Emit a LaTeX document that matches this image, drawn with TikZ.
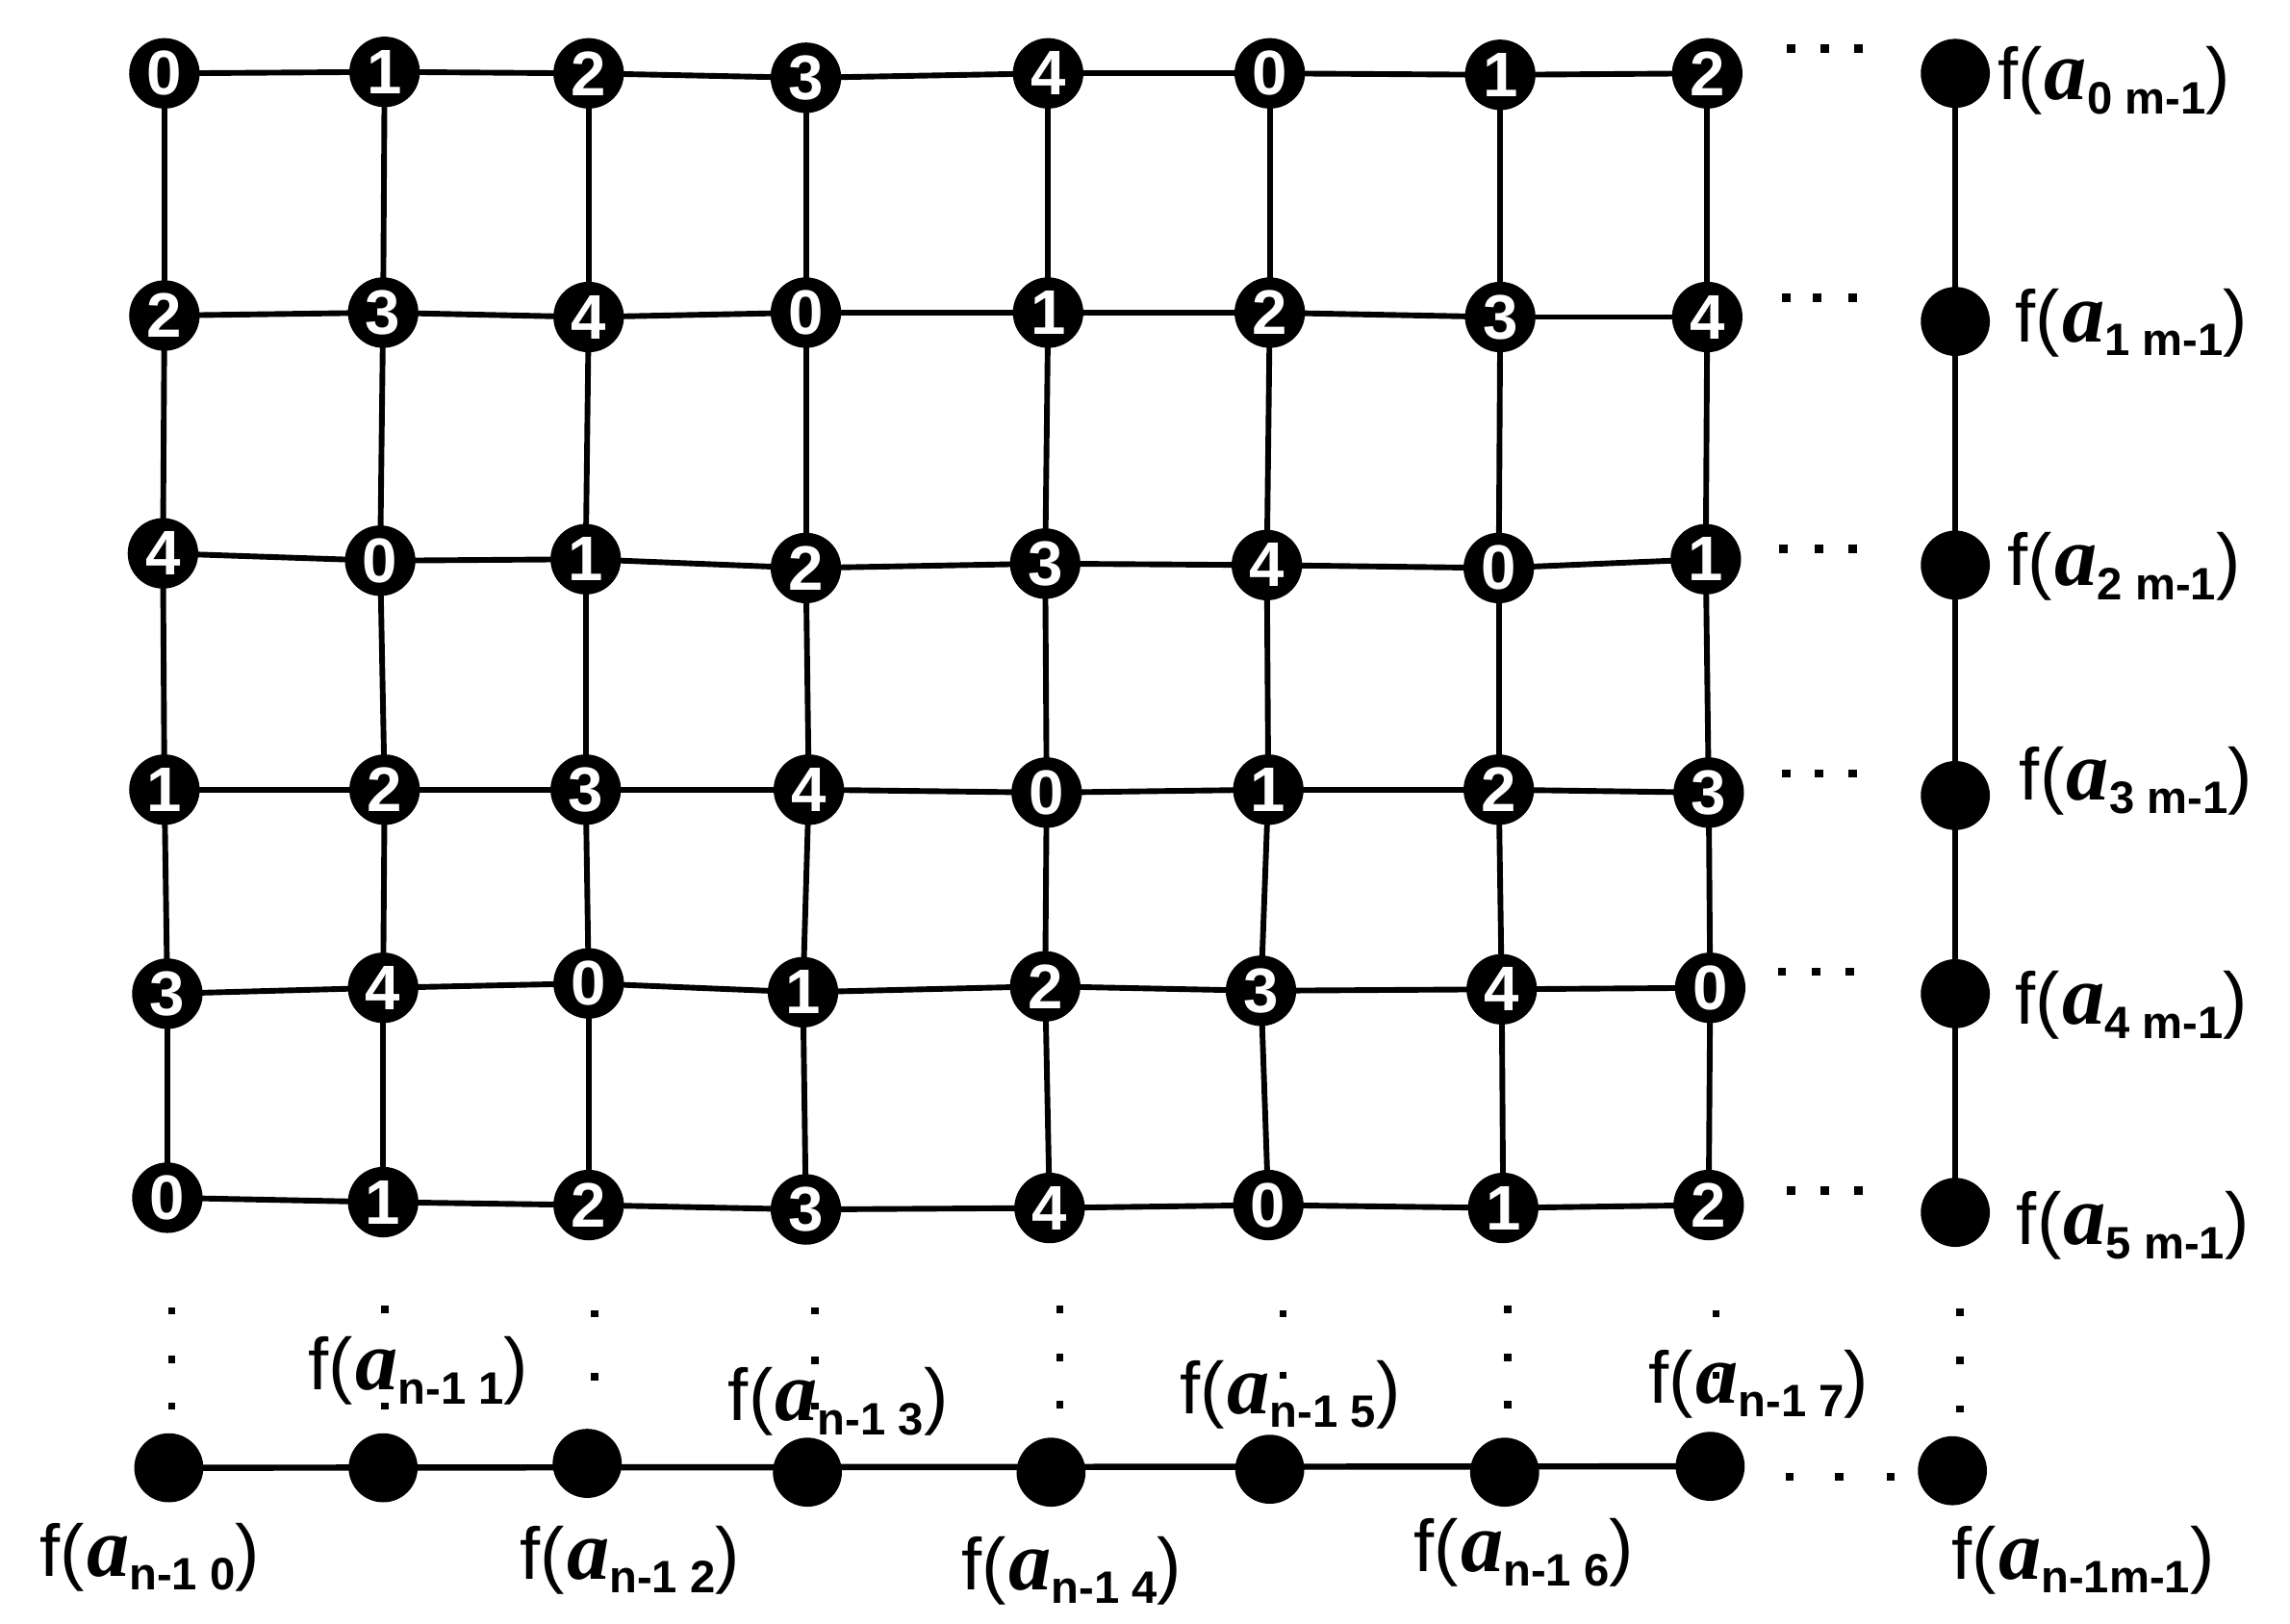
\documentclass[tikz,border=0pt]{standalone}
\usepackage{fontspec}
\setmainfont{Liberation Serif}
\setsansfont{Liberation Sans}
\usetikzlibrary{backgrounds}
\newcommand{\flab}[1]{{\sffamily\fontsize{14.2}{14.2}\selectfont f(\hspace{0.03em}{\rmfamily\bfseries\itshape\fontsize{16.5}{16.5}\selectfont a}\raisebox{-2.7pt}{\fontsize{8.8}{8.8}\selectfont\bfseries #1})}}
\tikzset{
  gn/.style={circle, fill=black, minimum size=0.48cm, inner sep=0pt, text=white,
    font=\sffamily\bfseries\fontsize{12.2}{12.2}\selectfont},
  bn/.style={circle, fill=black, minimum size=0.47cm, inner sep=0pt},
  lab/.style={inner sep=0pt, anchor=center},
  edge/.style={line width=1.1pt, black},
  sqdot/.style={fill=black}
}
\begin{document}
\begin{tikzpicture}[x=0.01cm, y=-0.01cm]
\useasboundingbox (0,0) rectangle (1560,1106.4);
% grid nodes: row-col
\foreach \c/\x/\y/\d in {0/112/50/0,1/262/49/1,2/401/50/2,3/549/53/3,4/714/50/4,5/865/50/0,6/1022/51/1,7/1163/50/2}
  \node[gn] (n-0-\c) at (\x,\y) {\d};
\foreach \c/\x/\y/\d in {0/112/215/2,1/261/213/3,2/401/216/4,3/549/213/0,4/714/213/1,5/865/213/2,6/1022/216/3,7/1163/216/4}
  \node[gn] (n-1-\c) at (\x,\y) {\d};
\foreach \c/\x/\y/\d in {0/111/377/4,1/259/382/0,2/399/381/1,3/549/387/2,4/712/384/3,5/863/385/4,6/1021/387/0,7/1162/381/1}
  \node[gn] (n-2-\c) at (\x,\y) {\d};
\foreach \c/\x/\y/\d in {0/112/538/1,1/262/538/2,2/399/538/3,3/551/538/4,4/713/540/0,5/864/538/1,6/1021/538/2,7/1164/540/3}
  \node[gn] (n-3-\c) at (\x,\y) {\d};
\foreach \c/\x/\y/\d in {0/114/677/3,1/261/673/4,2/401/670/0,3/547/676/1,4/712/672/2,5/859/675/3,6/1023/674/4,7/1165/673/0}
  \node[gn] (n-4-\c) at (\x,\y) {\d};
\foreach \c/\x/\y/\d in {0/114/816/0,1/261/819/1,2/401/821/2,3/549/824/3,4/715/823/4,5/864/821/0,6/1024/823/1,7/1164/821/2}
  \node[gn] (n-5-\c) at (\x,\y) {\d};
% right column nodes
\foreach \r/\y in {0/50,1/219,2/385,3/542,4/677,5/826}
  \node[bn] (r-\r) at (1332,\y) {};
% bottom row nodes
\foreach \c/\x/\y in {0/115/1000,1/261/1000,2/400/997,3/550/1003,4/716/1003,5/865/1001,6/1025/1003,7/1165/999,8/1330/1002}
  \node[bn] (b-\c) at (\x,\y) {};
% edges
\begin{scope}[on background layer]
  \foreach \r in {0,1,2,3,4,5}
    \foreach \c/\cn in {0/1,1/2,2/3,3/4,4/5,5/6,6/7}
      \draw[edge] (n-\r-\c.center) -- (n-\r-\cn.center);
  \foreach \r/\rn in {0/1,1/2,2/3,3/4,4/5}
    \foreach \c in {0,1,2,3,4,5,6,7}
      \draw[edge] (n-\r-\c.center) -- (n-\rn-\c.center);
\end{scope}
\draw[edge] (r-0.center) -- (r-5.center);
\draw[line width=1.2pt] (b-0.center) -- (b-7.center);
% horizontal ellipsis dots
\foreach \x/\y in {1220/33,1243/33,1266/33,
                   1217/203,1238/203,1262/203,
                   1215/374,1239/374,1262/374,
                   1217/527,1239/527,1262/527,
                   1214/662,1237/662,1260/662,
                   1220/811,1243/811,1266/811,
                   1219/1006,1253/1006,1288/1006}
  \fill[sqdot] (\x-2.8,\y-2.8) rectangle ++(5.6,5.6);
% vertical ellipsis dots
\foreach \x/\y in {117/893,117/926,117/958,
                   262/892,262/958,
                   405/895,405/938,
                   555/893,555/927,555/958,
                   722/892,722/925,722/957,
                   874/895,874/937,
                   1027/892,1027/925,1027/957,
                   1169/895,1169/937,
                   1335/894,1335/927,1335/960}
  \fill[sqdot] (\x-2.5,\y-2.5) rectangle ++(5,5);
% right labels
\node[lab] (lr-0) at (1440,55) {\flab{0 m-1}};
\node[lab] (lr-1) at (1452,220) {\flab{1 m-1}};
\node[lab] (lr-2) at (1447,386) {\flab{2 m-1}};
\node[lab] (lr-3) at (1455,532) {\flab{3 m-1}};
\node[lab] (lr-4) at (1452,685) {\flab{4 m-1}};
\node[lab] (lr-5) at (1453,835) {\flab{5 m-1}};
% bottom labels
\node[lab] (lb-0) at (102,1061) {\flab{n-1 0}};
\node[lab] (lb-1) at (285,934) {\flab{n-1 1}};
\node[lab] (lb-2) at (429,1063) {\flab{n-1 2}};
\node[lab] (lb-3) at (571,955) {\flab{n-1 3}};
\node[lab] (lb-4) at (730,1070) {\flab{n-1 4}};
\node[lab] (lb-5) at (879,950) {\flab{n-1 5}};
\node[lab] (lb-6) at (1038,1058) {\flab{n-1 6}};
\node[lab] (lb-7) at (1198,943) {\flab{n-1 7}};
\node[lab] (lb-8) at (1419,1063) {\flab{n-1m-1}};
\end{tikzpicture}
\end{document}
